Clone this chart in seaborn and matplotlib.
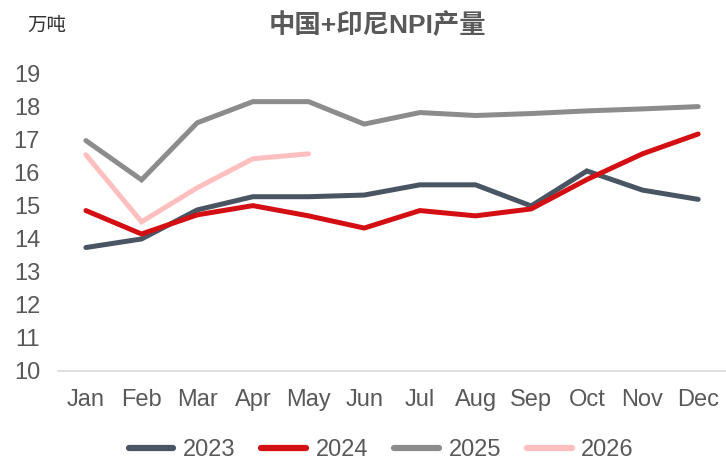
import pandas as pd
import seaborn as sns
import matplotlib.pyplot as plt

months = ['Jan', 'Feb', 'Mar', 'Apr', 'May', 'Jun', 'Jul', 'Aug', 'Sep', 'Oct', 'Nov', 'Dec']
y2023 = [13.74, 14.0, 14.88, 15.28, 15.28, 15.33, 15.64, 15.64, 15.0, 16.06, 15.48, 15.2]
y2024 = [14.86, 14.15, 14.73, 15.01, 14.7, 14.33, 14.86, 14.7, 14.91, 15.8, 16.58, 17.18]
y2025 = [16.98, 15.79, 17.52, 18.16, 18.16, 17.48, 17.83, 17.74, 17.8, 17.88, 17.94, 18.01]
y2026 = [16.55, 14.52, 15.55, 16.43, 16.58]

colors = {'2023': '#4a5563', '2024': '#d40f14', '2025': '#8c8c8c', '2026': '#ffbfbf'}

#====================== long-form table ======================
rows = []
for year, vals in [('2023', y2023), ('2024', y2024), ('2025', y2025), ('2026', y2026)]:
    for i, v in enumerate(vals):
        rows.append({'month': i, 'year': year, 'value': v})
df = pd.DataFrame(rows)

sns.set_theme(style="white")
plt.rcParams['font.family'] = ['Liberation Sans', 'Noto Sans CJK SC', 'DejaVu Sans']
txt = '#595959'

fig = plt.figure(figsize=(7.26, 4.62), dpi=100)
ax = fig.add_axes([0.08, 0.197, 0.92, 0.643])

sns.lineplot(data=df, x='month', y='value', hue='year', palette=colors,
             linewidth=3.6, ax=ax, legend=True)
for ln in ax.get_lines():
    ln.set_solid_capstyle('round')
    ln.set_solid_joinstyle('miter')

ax.set_xlim(-0.5, 11.5)
ax.set_ylim(10, 19)
ax.set_xticks(range(12))
ax.set_xticklabels(months)
ax.set_yticks(range(10, 20))
ax.tick_params(axis='both', length=0, labelsize=17, colors=txt)
ax.tick_params(axis='x', pad=13)
ax.tick_params(axis='y', pad=13)
ax.set_xlabel('')
ax.set_ylabel('')
for s in ['top', 'right', 'left']:
    ax.spines[s].set_visible(False)
ax.spines['bottom'].set_color('#d9d9d9')
ax.spines['bottom'].set_linewidth(1.2)

fig.text(0.52, 0.945, '中国+印尼NPI产量', ha='center', va='center', fontsize=19,
         fontweight='bold', color=txt,
         family=['Liberation Sans', 'Noto Sans CJK SC'])
fig.text(0.037, 0.945, '万吨', ha='left', va='center', fontsize=14, color='#333333',
         family=['Noto Sans CJK SC'])

handles, labels = ax.get_legend_handles_labels()
ax.legend(handles, labels, loc='center', bbox_to_anchor=(0.525, 0.025), bbox_transform=fig.transFigure,
          ncol=4, frameon=False, fontsize=17, labelcolor=txt, handlelength=1.9,
          handletextpad=0.4, columnspacing=1.1)
for h in ax.get_legend().get_lines():
    h.set_linewidth(4.5)
    h.set_solid_capstyle('round')

fig.savefig('out.png', dpi=100)
